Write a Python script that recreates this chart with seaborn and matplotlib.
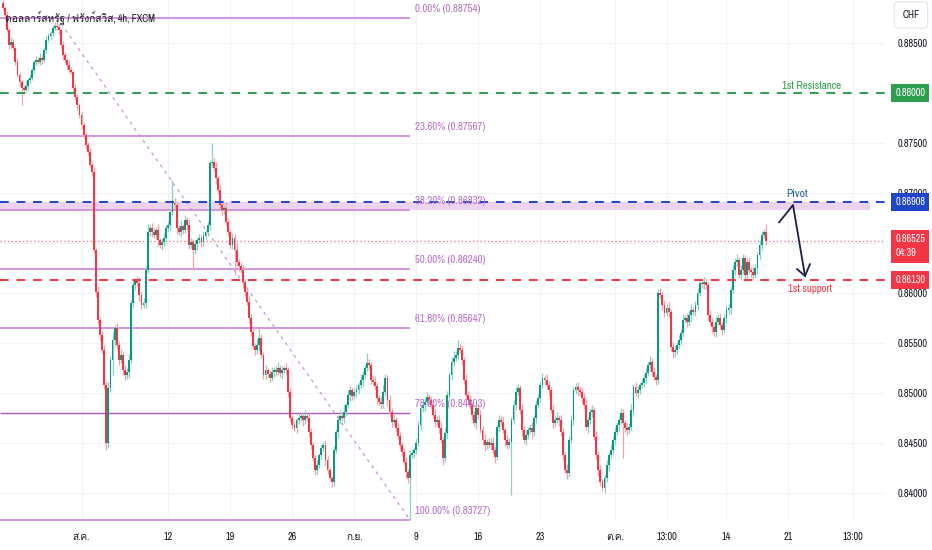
import numpy as np
import pandas as pd
import matplotlib
matplotlib.use("Agg")
import matplotlib.pyplot as plt
import seaborn as sns
from matplotlib import font_manager, ft2font
from matplotlib.transforms import blended_transform_factory

# USD/CHF 4h closes in pips (x 0.0001), one value per bar
close_pips = [
    8885, 8878, 8863, 8848, 8851, 8845, 8831, 8818, 8811, 8805,
    8803, 8807, 8813, 8815, 8823, 8831, 8833, 8831, 8835, 8833,
    8843, 8853, 8857, 8860, 8865, 8867, 8866, 8863, 8848, 8838,
    8833, 8828, 8823, 8821, 8805, 8796, 8788, 8778, 8768, 8758,
    8748, 8741, 8728, 8721, 8643, 8601, 8573, 8558, 8543, 8508,
    8450, 8505, 8533, 8553, 8565, 8548, 8533, 8538, 8523, 8518,
    8521, 8533, 8590, 8608, 8613, 8610, 8598, 8588, 8590, 8623,
    8661, 8665, 8661, 8658, 8663, 8653, 8648, 8651, 8655, 8665,
    8668, 8681, 8690, 8688, 8665, 8661, 8667, 8663, 8673, 8668,
    8648, 8651, 8643, 8649, 8653, 8655, 8651, 8657, 8661, 8668,
    8730, 8731, 8725, 8715, 8703, 8688, 8683, 8685, 8671, 8661,
    8648, 8655, 8643, 8631, 8627, 8623, 8611, 8601, 8591, 8575,
    8561, 8547, 8543, 8548, 8555, 8538, 8518, 8523, 8519, 8515,
    8521, 8523, 8521, 8525, 8520, 8523, 8525, 8523, 8501, 8475,
    8468, 8465, 8473, 8475, 8477, 8473, 8477, 8475, 8461, 8448,
    8435, 8423, 8428, 8438, 8445, 8448, 8433, 8423, 8415, 8411,
    8443, 8461, 8473, 8477, 8475, 8481, 8488, 8498, 8503, 8497,
    8501, 8503, 8508, 8513, 8518, 8525, 8530, 8528, 8513, 8511,
    8507, 8495, 8491, 8489, 8501, 8515, 8493, 8481, 8471, 8473,
    8465, 8457, 8448, 8441, 8431, 8421, 8415, 8438, 8440, 8443,
    8450, 8468, 8485, 8488, 8491, 8496, 8493, 8488, 8478, 8471,
    8473, 8465, 8453, 8435, 8460, 8498, 8518, 8531, 8535, 8538,
    8545, 8543, 8533, 8513, 8498, 8493, 8488, 8478, 8470, 8485,
    8478, 8463, 8453, 8448, 8451, 8448, 8450, 8443, 8436, 8466,
    8473, 8471, 8463, 8453, 8448, 8451, 8473, 8488, 8501, 8505,
    8483, 8463, 8453, 8458, 8463, 8465, 8461, 8475, 8488, 8495,
    8508, 8515, 8513, 8508, 8503, 8483, 8470, 8473, 8475, 8473,
    8461, 8438, 8423, 8420, 8453, 8473, 8503, 8506, 8503, 8501,
    8495, 8488, 8466, 8473, 8481, 8483, 8456, 8438, 8423, 8411,
    8405, 8415, 8428, 8438, 8443, 8453, 8461, 8468, 8473, 8480,
    8470, 8465, 8463, 8466, 8483, 8506, 8500, 8503, 8508, 8510,
    8515, 8520, 8528, 8531, 8521, 8516, 8513, 8600, 8598, 8588,
    8580, 8585, 8581, 8546, 8541, 8543, 8548, 8553, 8560, 8573,
    8575, 8571, 8578, 8583, 8581, 8588, 8600, 8610, 8609, 8611,
    8608, 8578, 8571, 8566, 8561, 8571, 8575, 8568, 8563, 8575,
    8583, 8585, 8603, 8623, 8631, 8633, 8618, 8623, 8635, 8618,
    8631, 8623, 8621, 8618, 8625, 8638, 8648, 8658, 8661, 8652.5,
]
first_open = 8890

# wick length above / below the body, pips
upper_wick = [
    3, 2, 4, 2, 5, 3, 2, 4, 3, 2,   3, 5, 2, 4, 3, 2, 4, 3, 5, 3,
    2, 4, 3, 2, 3, 4, 8, 3, 2, 4,   3, 2, 5, 3, 2, 4, 3, 2, 4, 3,
    2, 3, 4, 3, 5, 2, 6, 3, 4, 5,   3, 6, 4, 8, 3, 5, 4, 6, 3, 5,
    4, 6, 3, 5, 2, 4, 6, 3, 5, 4,   8, 3, 5, 4, 3, 6, 2, 4, 5, 3,
    4, 3, 23, 5, 4, 3, 6, 2, 5, 3,  6, 4, 3, 5, 2, 4, 3, 5, 2, 4,
    3, 19, 4, 6, 3, 5, 4, 3, 6, 4,  3, 5, 4, 7, 3, 4, 5, 3, 4, 6,
    4, 5, 3, 6, 10, 4, 3, 5, 2, 4,  5, 3, 4, 6, 3, 4, 2, 5, 3, 4,
    3, 4, 2, 5, 3, 4, 6, 3, 5, 4,   3, 4, 5, 2, 4, 3, 5, 4, 3, 2,
    4, 3, 5, 6, 4, 8, 3, 5, 4, 3,   4, 5, 3, 6, 4, 3, 10, 4, 3, 5,
    6, 4, 3, 5, 7, 4, 3, 5, 4, 6,   3, 5, 4, 3, 4, 5, 3, 6, 4, 3,
    5, 4, 3, 6, 4, 5, 3, 4, 5, 6,   4, 5, 6, 3, 5, 4, 3, 5, 7, 4,
    8, 4, 5, 3, 6, 4, 5, 3, 4, 6,   3, 5, 4, 6, 3, 4, 5, 6, 4, 3,
    5, 4, 6, 3, 5, 4, 3, 5, 6, 4,   3, 6, 4, 5, 3, 4, 6, 3, 5, 4,
    4, 5, 3, 6, 4, 3, 5, 4, 6, 3,   5, 4, 3, 6, 4, 5, 3, 4, 5, 3,
    4, 5, 6, 3, 4, 5, 3, 6, 4, 5,   3, 4, 5, 3, 6, 4, 5, 3, 4, 5,
    4, 3, 5, 4, 6, 3, 5, 4, 3, 5,   4, 5, 3, 6, 4, 5, 3, 4, 5, 3,
    5, 4, 6, 3, 5, 4, 3, 5, 4, 6,   3, 5, 4, 6, 3, 4, 5, 3, 4, 5,
    4, 3, 5, 4, 3, 6, 4, 5, 3, 4,   5, 4, 3, 5, 4, 6, 3, 5, 4, 3,
    4, 5, 3, 6, 4, 3, 5, 4, 3, 8,
]
lower_wick = [
    2, 3, 2, 4, 3, 2, 3, 2, 4, 17,  3, 2, 4, 3, 2, 3, 4, 2, 3, 4,
    2, 3, 2, 4, 3, 2, 3, 4, 3, 5,   3, 4, 3, 2, 4, 3, 5, 3, 4, 3,
    4, 3, 2, 4, 3, 5, 4, 6, 3, 4,   7, 5, 4, 15, 6, 4, 5, 3, 4, 5,
    4, 6, 3, 4, 5, 3, 6, 4, 3, 5,   3, 4, 5, 3, 4, 6, 3, 5, 4, 3,
    4, 5, 3, 4, 6, 3, 5, 4, 3, 5,   4, 3, 20, 4, 6, 3, 5, 4, 3, 4,
    5, 4, 3, 6, 4, 3, 5, 4, 3, 4,   3, 4, 25, 4, 5, 3, 6, 4, 3, 5,
    4, 3, 5, 4, 6, 3, 4, 5, 3, 4,   3, 5, 4, 3, 4, 6, 3, 4, 5, 3,
    4, 3, 5, 4, 3, 6, 4, 3, 5, 4,   3, 5, 4, 3, 4, 3, 5, 4, 3, 5,
    4, 3, 6, 4, 3, 5, 4, 3, 6, 4,   3, 5, 4, 3, 6, 4, 3, 5, 4, 3,
    4, 6, 3, 5, 4, 3, 6, 4, 5, 3,   4, 3, 5, 4, 3, 6, 5, 42, 3, 5,
    4, 3, 5, 4, 6, 3, 5, 4, 3, 5,   4, 5, 3, 7, 4, 6, 3, 5, 4, 3,
    4, 3, 5, 4, 6, 3, 4, 5, 3, 6,   4, 3, 5, 6, 4, 3, 5, 4, 6, 3,
    5, 4, 3, 6, 4, 3, 53, 4, 5, 3,  4, 6, 3, 5, 4, 3, 6, 4, 5, 3,
    4, 3, 5, 4, 6, 3, 5, 4, 3, 6,   4, 5, 3, 6, 4, 3, 5, 4, 6, 3,
    5, 4, 3, 6, 4, 5, 3, 4, 6, 4,   3, 5, 4, 6, 3, 4, 5, 3, 6, 4,
    35, 4, 5, 3, 4, 6, 3, 5, 4, 3,  4, 5, 3, 6, 4, 3, 5, 4, 3, 5,
    4, 3, 5, 4, 6, 5, 4, 3, 5, 4,   3, 5, 4, 6, 3, 4, 5, 3, 4, 5,
    4, 5, 3, 6, 4, 5, 3, 4, 5, 3,   5, 4, 6, 3, 5, 4, 3, 5, 4, 6,
    4, 3, 5, 4, 3, 6, 4, 5, 3, 4,
]

bar_start = "2024-07-23 16:00"
title = "ดอลลาร์สหรัฐ / ฟรังก์สวิส, 4h, FXCM"
currency = "CHF"
countdown = "04:39"

fib_pct = ["0.00%", "23.60%", "38.20%", "50.00%", "61.80%", "78.60%", "100.00%"]
fib_price = [0.88754, 0.87567, 0.86832, 0.86240, 0.85647, 0.84803, 0.83727]
fib_anchor_bars = [26, 197]

resistance = 0.88000
pivot = 0.86908
support = 0.86130

tick_times = ["2024-08-01", "2024-08-12", "2024-08-19", "2024-08-26", "2024-09-02",
              "2024-09-09", "2024-09-16", "2024-09-23", "2024-10-01", "2024-10-07 04:00",
              "2024-10-14", "2024-10-21", "2024-10-28 04:00"]
tick_labels = ["ส.ค.", "12", "19", "26", "ก.ย.", "9", "16", "23", "ต.ค.", "13:00",
               "14", "21", "13:00"]

# arrow sketch (bar index, price)
arrow_x = [375.4, 382.2, 388.0]
arrow_y = [0.86705, 0.86880, 0.86170]
head_x = [384.1, 388.0, 390.4]
head_y = [0.86240, 0.86170, 0.86290]


def font_with(ch):
    for f in font_manager.fontManager.ttflist:
        if "CJK" in f.name:
            continue
        try:
            if ord(ch) in ft2font.FT2Font(f.fname).get_charmap():
                return f.name
        except Exception:
            pass
    return None


sns.set_theme(style="white")
ttf = font_manager.fontManager.ttflist
names = {f.name for f in ttf}
narrow = sorted({f.name for f in ttf if "Narrow" in f.name or "Condensed" in f.name})
cond = [f for f in ttf if f.stretch in ("condensed", "semi-condensed") and f.style == "normal"]
if narrow:
    base = narrow[0]
elif cond:
    base = cond[0].name
    plt.rcParams["font.stretch"] = cond[0].stretch
else:
    base = "Roboto" if "Roboto" in names else "DejaVu Sans"
thai = font_with("ด")
plt.rcParams["font.family"] = [base] + ([thai] if thai else []) + ["DejaVu Sans"]
fs = 7.3 if (narrow or cond) else 6.2

# candles
df = pd.DataFrame({"close": np.array(close_pips) / 1e4})
df["open"] = np.r_[first_open / 1e4, df["close"].values[:-1]]
df["high"] = df[["open", "close"]].max(axis=1) + np.array(upper_wick) / 1e4
df["low"] = df[["open", "close"]].min(axis=1) - np.array(lower_wick) / 1e4
df["up"] = df["close"] >= df["open"]
n = len(df)
x = np.arange(n)

times = pd.date_range(bar_start, periods=800, freq="4h")
times = times[times.dayofweek < 5]
tick_pos = [int(np.searchsorted(times.values, np.datetime64(pd.Timestamp(t)))) for t in tick_times]

UP, DOWN = "#089981", "#f23645"
GREEN, BLUE, RED = "#2e9e4f", "#1f45c8", "#f23645"
FIB, FIB_TXT = "#cf8fdc", "#b86fca"
INK = "#131722"

fig = plt.figure(figsize=(9.32, 5.5), dpi=100)
ax = fig.add_axes([0, 29 / 550, 885 / 932, 521 / 550])
x_left, x_right = -1.45, 426.7

wick_col = np.where(df["up"], "#8fd0c4", "#f6a0a7")
body_col = np.where(df["up"], UP, DOWN)
ax.vlines(x, df["low"], df["high"], colors=wick_col, lw=0.9, zorder=3)
body_h = (df["close"] - df["open"]).abs().clip(lower=0.00007)
ax.bar(x, body_h, bottom=df[["open", "close"]].min(axis=1), width=0.9,
       color=body_col, linewidth=0, zorder=4)

# fibonacci retracement
ax.axhspan(fib_price[2], pivot, xmin=0, xmax=870 / 885, color="#e6c8ee", alpha=0.8, lw=0, zorder=1)
for pct, p in zip(fib_pct, fib_price):
    ax.hlines(p, x_left, fib_anchor_bars[1], colors="#a957bd" if pct == "78.60%" else FIB,
              lw=1.0 if pct == "78.60%" else 1.3, zorder=2)
    ax.text(fib_anchor_bars[1] + 2.2, p + 0.0004, f"{pct} ({p:.5f})", color=FIB_TXT,
            fontsize=fs + 0.5, ha="left", va="bottom", zorder=6)
sns.lineplot(x=fib_anchor_bars, y=[fib_price[0], fib_price[-1]], ax=ax, color=FIB,
             lw=0.9, linestyle=(0, (2.5, 3.5)), zorder=2)

# levels
ax.axhline(resistance, color=GREEN, lw=1.4, ls=(0, (4.5, 4)), zorder=5)
ax.axhline(pivot, color=BLUE, lw=1.4, ls=(0, (4.5, 4)), zorder=5)
ax.axhline(support, color=RED, lw=1.4, ls=(0, (4.5, 4)), zorder=5)
last = df["close"].iloc[-1]
ax.axhline(last, color=RED, alpha=0.75, lw=0.9, ls=(0, (1, 2)), zorder=2)

ax.text(391, resistance + 0.0007, "1st Resistance", color="#2e9e4f", fontsize=fs + 0.5, ha="center", va="center")
ax.text(384, pivot + 0.0008, "Pivot", color="#2060a8", fontsize=fs + 1.0, ha="center", va="center")
ax.text(390.5, support - 0.0009, "1st support", color=RED, fontsize=fs + 0.5, ha="center", va="center")

ax.plot(arrow_x, arrow_y, color="#1b1f45", lw=1.3, zorder=7)
ax.plot(head_x, head_y, color="#1b1f45", lw=1.3, zorder=7)

# axes
ax.set_xlim(x_left, x_right)
ax.set_ylim(0.8372, 0.8893)
ax.set_xticks(tick_pos, tick_labels)
yt = np.arange(0.840, 0.8851, 0.005)
# 0.88000 and 0.86500 sit under price tags, so they stay unlabelled
hidden = [0.880, 0.865]
ax.set_yticks(yt, ["" if min(abs(v - h) for h in hidden) < 1e-6 else f"{v:.5f}" for v in yt])
ax.yaxis.tick_right()
ax.grid(True, color="#f0f3fa", lw=0.8, zorder=0)
ax.set_axisbelow(True)
ax.tick_params(axis="y", length=0, pad=9, labelsize=fs, labelcolor=INK)
ax.tick_params(axis="x", length=0, pad=8, labelsize=fs, labelcolor=INK)
for s in ax.spines.values():
    s.set_visible(False)
ax.set_xlabel("")
ax.set_ylabel("")

# price tags on the scale
tr = blended_transform_factory(ax.transAxes, ax.transData)
tag_x = 1.0115
for val, col in [(resistance, GREEN), (pivot, BLUE), (support, RED)]:
    ax.text(tag_x, val, f"{val:.5f}", transform=tr, color="white", fontsize=fs,
            ha="left", va="center", clip_on=False, zorder=10,
            bbox=dict(boxstyle="square,pad=0.4", fc=col, ec="none"))
ax.text(tag_x, last + 0.0006, f"{last:.5f}\n{countdown}", transform=tr, color="white",
        fontsize=fs, ha="left", va="top", linespacing=1.5, clip_on=False, zorder=10,
        bbox=dict(boxstyle="square,pad=0.4", fc=RED, ec="none"))

ax.text(0.006, 1 - 18 / 521, title, transform=ax.transAxes, fontsize=fs, color=INK,
        ha="left", va="center", zorder=8)
fig.text(911 / 932, 1 - 15 / 550, currency, fontsize=fs, color=INK, ha="center", va="center",
         bbox=dict(boxstyle="round,pad=0.8,rounding_size=0.3", fc="white", ec="#e0e3eb", lw=0.8))

fig.savefig("out.png", dpi=100)
